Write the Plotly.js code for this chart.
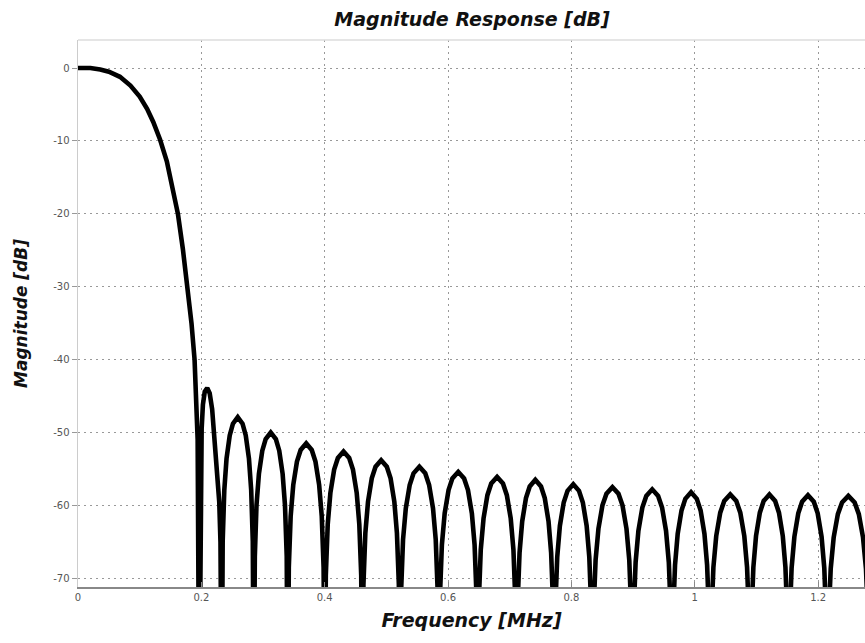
<!DOCTYPE html>
<html>
<head>
<meta charset="utf-8">
<script src="https://cdn.plot.ly/plotly-3.0.1.min.js"></script>
<style>html,body{margin:0;padding:0;background:#fff;overflow:hidden}</style>
</head>
<body>
<div id="chart" style="width:865px;height:643px"></div>
<script>
// Frequency [MHz] and magnitude [dB], lobe by lobe
const freq = [
  // main lobe
  0, 0.02, 0.036, 0.05, 0.068, 0.085, 0.1, 0.112, 0.122, 0.133, 0.144, 0.153, 0.162, 0.170, 0.178, 0.184, 0.189, 0.192, 0.194, 0.1965,
  // sidelobe 1
  0.1975, 0.199, 0.2005, 0.2025, 0.2055, 0.2095, 0.2135, 0.2175, 0.2215, 0.2255, 0.229, 0.231, 0.2325, 0.233,
  // sidelobe 2
  0.2346, 0.2372, 0.2408, 0.246, 0.2512, 0.259, 0.2668, 0.272, 0.2772, 0.2808, 0.2834, 0.285,
  // sidelobe 3
  0.2867, 0.2894, 0.2933, 0.2988, 0.3043, 0.3125, 0.3208, 0.3263, 0.3318, 0.3356, 0.3384, 0.340,
  // sidelobe 4
  0.3418, 0.3448, 0.349, 0.355, 0.361, 0.370, 0.379, 0.385, 0.391, 0.3952, 0.3982, 0.400,
  // sidelobe 5
  0.4018, 0.4049, 0.4092, 0.4153, 0.4214, 0.4305, 0.4397, 0.4458, 0.4519, 0.4561, 0.4592, 0.461,
  // sidelobe 6
  0.4628, 0.4659, 0.4702, 0.4763, 0.4824, 0.4915, 0.5007, 0.5068, 0.5129, 0.5171, 0.5202, 0.522,
  // sidelobe 7
  0.5239, 0.527, 0.5315, 0.5378, 0.544, 0.5535, 0.563, 0.5693, 0.5756, 0.58, 0.5831, 0.585,
  // sidelobe 8
  0.5869, 0.59, 0.5945, 0.6008, 0.607, 0.6165, 0.626, 0.6323, 0.6386, 0.643, 0.6461, 0.648,
  // sidelobe 9
  0.6499, 0.653, 0.6575, 0.6638, 0.67, 0.6795, 0.689, 0.6953, 0.7016, 0.706, 0.7091, 0.711,
  // sidelobe 10
  0.7128, 0.7159, 0.7202, 0.7263, 0.7324, 0.7415, 0.7507, 0.7568, 0.7629, 0.7671, 0.7702, 0.772,
  // sidelobe 11
  0.7739, 0.777, 0.7813, 0.7875, 0.7937, 0.803, 0.8123, 0.8185, 0.8247, 0.829, 0.8321, 0.834,
  // sidelobe 12
  0.836, 0.8392, 0.8438, 0.8503, 0.8568, 0.8665, 0.8763, 0.8828, 0.8893, 0.8938, 0.897, 0.899,
  // sidelobe 13
  0.9009, 0.9041, 0.9086, 0.915, 0.9214, 0.931, 0.9406, 0.947, 0.9534, 0.9579, 0.9611, 0.963,
  // sidelobe 14
  0.9649, 0.968, 0.9723, 0.9785, 0.9847, 0.994, 1.0033, 1.0095, 1.0157, 1.02, 1.0231, 1.025,
  // sidelobe 15
  1.027, 1.0302, 1.0348, 1.0413, 1.0478, 1.0575, 1.0673, 1.0738, 1.0803, 1.0848, 1.088, 1.090,
  // sidelobe 16
  1.0919, 1.095, 1.0993, 1.1055, 1.1117, 1.121, 1.1303, 1.1365, 1.1427, 1.147, 1.1501, 1.152,
  // sidelobe 17
  1.1539, 1.157, 1.1615, 1.1678, 1.174, 1.1835, 1.193, 1.1993, 1.2056, 1.21, 1.2131, 1.215,
  // sidelobe 18
  1.217, 1.2204, 1.2252, 1.232, 1.2388, 1.249, 1.2592, 1.266, 1.2728, 1.2776, 1.281, 1.283
];
const magnitude = [
  // main lobe
  0, 0, -0.2, -0.5, -1.2, -2.4, -3.9, -5.6, -7.4, -9.8, -12.8, -16.2, -20, -24.8, -30, -35, -40, -45, -51, -90,
  // sidelobe 1
  -90, -57, -49.5, -46.2, -44.4, -43.9, -44.6, -46.8, -51, -55, -59.5, -65, -75, -90,
  // sidelobe 2
  -64.9, -57.9, -53.6, -50.4, -48.8, -47.9, -48.8, -50.4, -53.6, -57.9, -64.9, -90,
  // sidelobe 3
  -67.0, -60.0, -55.7, -52.5, -50.9, -50.0, -50.9, -52.5, -55.7, -60.0, -67.0, -90,
  // sidelobe 4
  -68.5, -61.5, -57.2, -54.0, -52.4, -51.5, -52.4, -54.0, -57.2, -61.5, -68.5, -90,
  // sidelobe 5
  -69.6, -62.6, -58.3, -55.1, -53.5, -52.6, -53.5, -55.1, -58.3, -62.6, -69.6, -90,
  // sidelobe 6
  -70.8, -63.8, -59.5, -56.3, -54.7, -53.8, -54.7, -56.3, -59.5, -63.8, -70.8, -90,
  // sidelobe 7
  -71.7, -64.7, -60.4, -57.2, -55.6, -54.7, -55.6, -57.2, -60.4, -64.7, -71.7, -90,
  // sidelobe 8
  -72.4, -65.4, -61.1, -57.9, -56.3, -55.4, -56.3, -57.9, -61.1, -65.4, -72.4, -90,
  // sidelobe 9
  -73.1, -66.1, -61.8, -58.6, -57.0, -56.1, -57.0, -58.6, -61.8, -66.1, -73.1, -90,
  // sidelobe 10
  -73.5, -66.5, -62.2, -59.0, -57.4, -56.5, -57.4, -59.0, -62.2, -66.5, -73.5, -90,
  // sidelobe 11
  -74.1, -67.1, -62.8, -59.6, -58.0, -57.1, -58.0, -59.6, -62.8, -67.1, -74.1, -90,
  // sidelobe 12
  -74.5, -67.5, -63.2, -60.0, -58.4, -57.5, -58.4, -60.0, -63.2, -67.5, -74.5, -90,
  // sidelobe 13
  -74.8, -67.8, -63.5, -60.3, -58.7, -57.8, -58.7, -60.3, -63.5, -67.8, -74.8, -90,
  // sidelobe 14
  -75.2, -68.2, -63.9, -60.7, -59.1, -58.2, -59.1, -60.7, -63.9, -68.2, -75.2, -90,
  // sidelobe 15
  -75.5, -68.5, -64.2, -61.0, -59.4, -58.5, -59.4, -61.0, -64.2, -68.5, -75.5, -90,
  // sidelobe 16
  -75.5, -68.5, -64.2, -61.0, -59.4, -58.5, -59.4, -61.0, -64.2, -68.5, -75.5, -90,
  // sidelobe 17
  -75.6, -68.6, -64.3, -61.1, -59.5, -58.6, -59.5, -61.1, -64.3, -68.6, -75.6, -90,
  // sidelobe 18
  -75.7, -68.7, -64.4, -61.2, -59.6, -58.7, -59.6, -61.2, -64.4, -68.7, -75.7, -90
];
const xTicks = [0, 0.2, 0.4, 0.6, 0.8, 1, 1.2];
const yTicks = [0, -10, -20, -30, -40, -50, -60, -70];

const titleFont = {family: 'DejaVu Sans', weight: 'bold', style: 'italic', color: '#111'};

const trace = {
  x: freq, y: magnitude, type: 'scatter', mode: 'lines',
  line: {color: '#000', width: 4.6}, hoverinfo: 'skip', showlegend: false
};

const layout = {
  width: 865, height: 643,
  margin: {l: 78, r: 0, t: 40, b: 56, pad: 0},
  paper_bgcolor: '#fff', plot_bgcolor: '#fff',
  title: {text: 'Magnitude Response [dB]', font: Object.assign({size: 19}, titleFont),
          x: 472/865, xref: 'container', xanchor: 'center', y: 1 - 19/643, yref: 'container', yanchor: 'middle'},
  xaxis: {
    range: [0, 1.276], tickvals: xTicks, ticktext: xTicks.map(String),
    showgrid: true, gridcolor: '#999', griddash: '2px,4px', gridwidth: 1,
    zeroline: false, showline: true, linecolor: '#888', linewidth: 2,
    ticks: 'inside', ticklen: 5, tickcolor: '#888',
    tickfont: {family: 'DejaVu Sans', size: 10, color: '#555'},
    title: {text: 'Frequency [MHz]', font: Object.assign({size: 19}, titleFont), standoff: 12},
    automargin: false, fixedrange: true
  },
  yaxis: {
    range: [-71.2, 3.85], tickvals: yTicks, ticktext: yTicks.map(String),
    showgrid: true, gridcolor: '#999', griddash: '2px,4px', gridwidth: 1,
    zeroline: false, showline: true, linecolor: '#ccc', linewidth: 1.5,
    ticks: 'outside', ticklen: 5, tickcolor: '#999',
    tickfont: {family: 'DejaVu Sans', size: 10, color: '#555'},
    title: {text: 'Magnitude [dB]', font: Object.assign({size: 17}, titleFont), standoff: 21},
    automargin: false, fixedrange: true
  },
  shapes: [{type: 'line', xref: 'paper', yref: 'paper', x0: 0, x1: 1, y0: 1, y1: 1,
            line: {color: '#ddd', width: 1.5}}]
};

Plotly.newPlot('chart', [trace], layout, {displayModeBar: false, staticPlot: true});
</script>
</body>
</html>
